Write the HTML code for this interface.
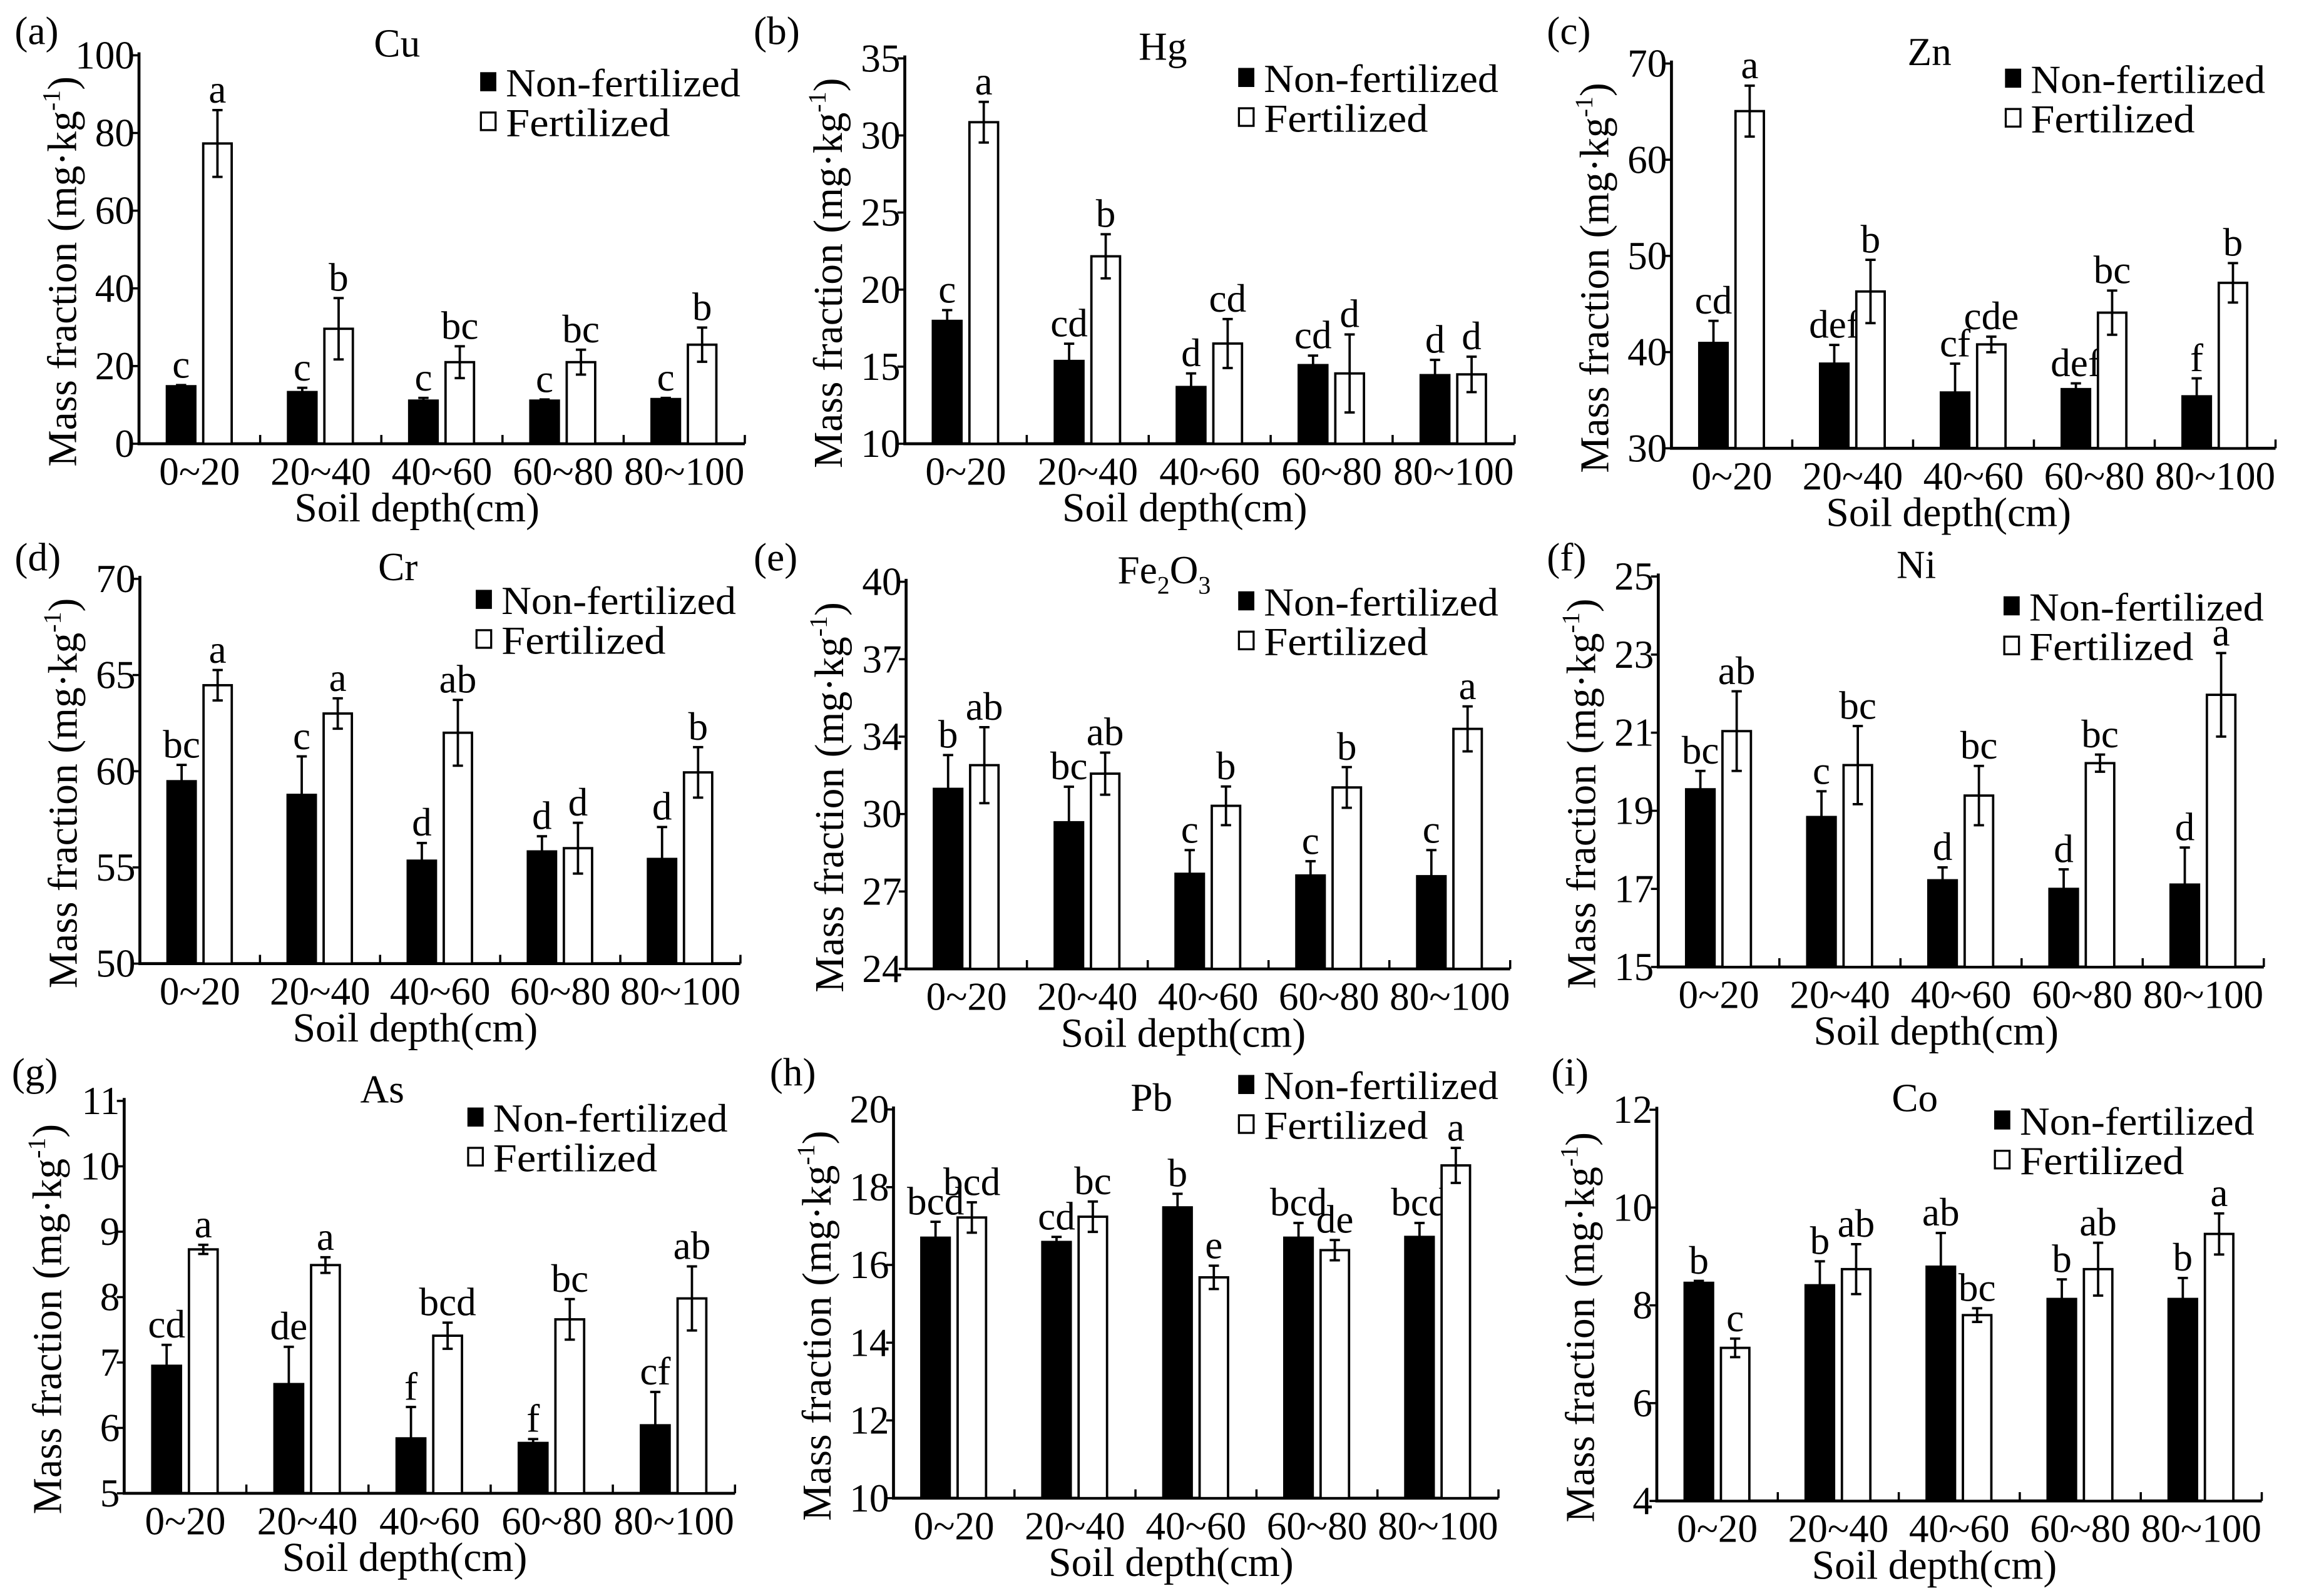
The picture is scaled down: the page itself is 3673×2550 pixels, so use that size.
<!DOCTYPE html>
<html>
<head>
<meta charset="utf-8">
<style>
html,body{margin:0;padding:0;background:#fff;}
svg{display:block;}
text{font-family:"Liberation Serif","Times New Roman",serif;fill:#000;}
</style>
</head>
<body>
<svg id="fig" xmlns="http://www.w3.org/2000/svg" width="3673" height="2550" viewBox="0 0 1568 1088" preserveAspectRatio="none"></svg>
<script>
const categories=["0~20","20~40","40~60","60~80","80~100"];

const cuNon=[14.8,13.3,11.1,11.1,11.5];
const cuNonErr=[0.3,1.1,0.7,0.3,0.3];
const cuFert=[77.3,29.6,21,21,25.5];
const cuFertErr=[8.6,7.9,4.1,3.2,4.4];
const cuNonLet=["c","c","c","c","c"];
const cuFertLet=["a","b","bc","bc","b"];
const cuTicks=[0,20,40,60,80,100];
const cuTickLabels=["0","20","40","60","80","100"];

const hgNon=[17.97,15.37,13.68,15.1,14.45];
const hgNonErr=[0.7,1.12,0.88,0.62,0.99];
const hgFert=[30.86,22.16,16.5,14.56,14.5];
const hgFertErr=[1.32,1.43,1.59,2.53,1.15];
const hgNonLet=["c","cd","d","cd","d"];
const hgFertLet=["a","b","cd","d","d"];
const hgTicks=[10,15,20,25,30,35];
const hgTickLabels=["10","15","20","25","30","35"];

const znNon=[40.95,38.8,35.8,36.15,35.4];
const znNonErr=[2.3,1.94,3.0,0.6,1.87];
const znFert=[65.05,46.3,40.8,44.1,47.2];
const znFertErr=[2.65,3.29,0.81,2.3,2.05];
const znNonLet=["cd","def","cf","def","f"];
const znFertLet=["a","b","cde","bc","b"];
const znTicks=[30,40,50,60,70];
const znTickLabels=["30","40","50","60","70"];

const crNon=[59.48,58.77,55.35,55.83,55.44];
const crNonErr=[0.85,2.0,0.92,0.79,1.66];
const crFert=[64.47,63.0,62.0,56.0,59.94];
const crFertErr=[0.79,0.79,1.71,1.32,1.31];
const crNonLet=["bc","c","d","d","d"];
const crFertLet=["a","a","ab","d","b"];
const crTicks=[50,55,60,65,70];
const crTickLabels=["50","55","60","65","70"];

const feNon=[31.44,30.06,27.93,27.86,27.83];
const feNonErr=[1.4,1.47,0.98,0.59,1.08];
const feFert=[32.42,32.07,30.74,31.5,33.92];
const feFertErr=[1.57,0.87,0.8,0.84,0.93];
const feNonLet=["b","bc","c","c","c"];
const feFertLet=["ab","ab","b","b","a"];
const feTicks=[24,27.2,30.4,33.6,36.8,40];
const feTickLabels=["24","27","30","34","37","40"];

const niNon=[19.55,18.84,17.22,17.0,17.11];
const niNonErr=[0.47,0.66,0.33,0.5,0.95];
const niFert=[21.04,20.17,19.39,20.22,21.97];
const niFertErr=[1.02,1.0,0.76,0.22,1.07];
const niNonLet=["bc","c","d","d","d"];
const niFertLet=["ab","bc","bc","bc","a"];
const niTicks=[15,17,19,21,23,25];
const niTickLabels=["15","17","19","21","23","25"];

const asNon=[6.95,6.67,5.84,5.77,6.04];
const asNonErr=[0.32,0.57,0.48,0.06,0.51];
const asFert=[8.73,8.49,7.41,7.66,7.98];
const asFertErr=[0.07,0.12,0.2,0.31,0.49];
const asNonLet=["cd","de","f","f","cf"];
const asFertLet=["a","a","bcd","bc","ab"];
const asTicks=[5,6,7,8,9,10,11];
const asTickLabels=["5","6","7","8","9","10","11"];

const pbNon=[16.7,16.59,17.48,16.7,16.72];
const pbNonErr=[0.41,0.13,0.35,0.38,0.36];
const pbFert=[17.22,17.24,15.68,16.38,18.56];
const pbFertErr=[0.39,0.39,0.3,0.26,0.45];
const pbNonLet=["bcd","cd","b","bcd","bcd"];
const pbFertLet=["bcd","bc","e","de","a"];
const pbTicks=[10,12,14,16,18,20];
const pbTickLabels=["10","12","14","16","18","20"];

const coNon=[8.46,8.41,8.79,8.13,8.13];
const coNonErr=[0.04,0.49,0.69,0.4,0.43];
const coFert=[7.13,8.74,7.8,8.74,9.46];
const coFertErr=[0.19,0.51,0.14,0.54,0.42];
const coNonLet=["b","b","ab","b","b"];
const coFertLet=["c","ab","bc","ab","a"];
const coTicks=[4,6,8,10,12];
const coTickLabels=["4","6","8","10","12"];

const panels=[
 {id:"a",title:"Cu",ax:94.8,top:37.7,bottom:302.5,right:508,min:0,max:100,ticks:cuTicks,tl:cuTickLabels,non:cuNon,nonE:cuNonErr,fert:cuFert,fertE:cuFertErr,nl:cuNonLet,fl:cuFertLet,lab:[10,30],leg:28,legX:163},
 {id:"b",title:"Hg",ax:617.1,top:39.8,bottom:302.5,right:1033,min:10,max:35,ticks:hgTicks,tl:hgTickLabels,non:hgNon,nonE:hgNonErr,fert:hgFert,fertE:hgFertErr,nl:hgNonLet,fl:hgFertLet,lab:[514,30],leg:23,legX:171},
 {id:"c",title:"Zn",ax:1140,top:43.3,bottom:305.6,right:1552,min:30,max:70,ticks:znTicks,tl:znTickLabels,non:znNon,nonE:znNonErr,fert:znFert,fertE:znFertErr,nl:znNonLet,fl:znFertLet,lab:[1055,30],leg:20,legX:167},
 {id:"d",title:"Cr",ax:95.4,top:394.6,bottom:656.9,right:505,min:50,max:70,ticks:crTicks,tl:crTickLabels,non:crNon,nonE:crNonErr,fert:crFert,fertE:crFertErr,nl:crNonLet,fl:crFertLet,lab:[10,389],leg:24,legX:163},
 {id:"e",title:"Fe2O3",ax:618,top:396.6,bottom:660.5,right:1030,min:24,max:40,ticks:feTicks,tl:feTickLabels,non:feNon,nonE:feNonErr,fert:feFert,fertE:feFertErr,nl:feNonLet,fl:feFertLet,lab:[514,389],leg:23,legX:168},
 {id:"f",title:"Ni",ax:1131,top:393,bottom:659.2,right:1544,min:15,max:25,ticks:niTicks,tl:niTickLabels,non:niNon,nonE:niNonErr,fert:niFert,fertE:niFertErr,nl:niNonLet,fl:niFertLet,lab:[1055,389],leg:30,legX:160},
 {id:"g",title:"As",ax:84.7,top:750.5,bottom:1018,right:501.3,min:5,max:11,ticks:asTicks,tl:asTickLabels,non:asNon,nonE:asNonErr,fert:asFert,fertE:asFertErr,nl:asNonLet,fl:asFertLet,lab:[8,740],leg:21,legX:165},
 {id:"h",title:"Pb",ax:609.4,top:756.3,bottom:1021.3,right:1022,min:10,max:20,ticks:pbTicks,tl:pbTickLabels,non:pbNon,nonE:pbNonErr,fert:pbFert,fertE:pbFertErr,nl:pbNonLet,fl:pbFertLet,lab:[525,740],leg:-7,legX:160},
 {id:"i",title:"Co",ax:1130,top:756.5,bottom:1023.2,right:1542.6,min:4,max:12,ticks:coTicks,tl:coTickLabels,non:coNon,nonE:coNonErr,fert:coFert,fertE:coFertErr,nl:coNonLet,fl:coFertLet,lab:[1058,740],leg:17,legX:165}
];

const NS="http://www.w3.org/2000/svg";
const svg=document.getElementById("fig");
function mk(parent,tag,attrs,txt){
  const el=document.createElementNS(NS,tag);
  for(const k in attrs) el.setAttribute(k,attrs[k]);
  if(txt!==undefined) el.textContent=txt;
  parent.appendChild(el);
  return el;
}

panels.forEach(p=>{
  const g=mk(svg,"g",{});
  
  
  const gw=(p.right-p.ax)/5;
  const y=v=>p.bottom-(v-p.min)/(p.max-p.min)*(p.bottom-p.top);

  const pl=mk(g,"text",{x:p.lab[0],y:p.lab[1],"font-size":27},"("+p.id+")");
  
  

  let tt;
  if(p.title==="Fe2O3"){
    tt=mk(g,"text",{x:p.ax+176,y:p.top+1,"font-size":27,"text-anchor":"middle"});
    mk(tt,"tspan",{},"Fe");
    mk(tt,"tspan",{"font-size":17,dy:7},"2");
    mk(tt,"tspan",{dy:-7},"O");
    mk(tt,"tspan",{"font-size":17,dy:7},"3");
  } else {
    tt=mk(g,"text",{x:p.ax+176,y:p.top+1,"font-size":27,"text-anchor":"middle"},p.title);
  }
  
  

  const ya=mk(g,"line",{x1:p.ax,y1:p.top-2,x2:p.ax,y2:p.bottom,stroke:"#000","stroke-width":2});
  
  
  const xa=mk(g,"line",{x1:p.ax-1,y1:p.bottom,x2:p.right,y2:p.bottom,stroke:"#000","stroke-width":2});
  
  

  p.ticks.forEach((v,i)=>{
    const tm=mk(g,"line",{x1:p.ax-5,y1:y(v),x2:p.ax,y2:y(v),stroke:"#000","stroke-width":1.5});
    
    
    const tl=mk(g,"text",{x:p.ax-3,y:y(v)+9,"font-size":27,"text-anchor":"end"},p.tl[i]);
    
    
  });

  categories.forEach((c,k)=>{
    const xt=mk(g,"line",{x1:p.ax+(k+1)*gw,y1:p.bottom,x2:p.ax+(k+1)*gw,y2:p.bottom-6,stroke:"#000","stroke-width":1.5});
    
    
    const xl=mk(g,"text",{x:p.ax+(k+0.5)*gw,y:p.bottom+28,"font-size":27,"text-anchor":"middle"},c);
    
    

    [[p.non,p.nonE,p.nl,0.23,"#000","non-fertilized"],[p.fert,p.fertE,p.fl,0.53,"#fff","fertilized"]].forEach(s=>{
      const v=s[0][k], e=s[1][k];
      const bx=p.ax+(k+s[3])*gw, bw=gw*0.235, cx=bx+bw/2;
      const r=mk(g,"rect",{x:bx,y:y(v),width:bw,height:p.bottom-y(v),fill:s[4],stroke:"#000","stroke-width":1.6});
      
      
      const eb=mk(g,"path",{d:"M"+cx+","+y(v-e)+"V"+y(v+e)+"M"+(cx-3.5)+","+y(v+e)+"H"+(cx+3.5)+"M"+(cx-3.5)+","+y(v-e)+"H"+(cx+3.5),stroke:"#000","stroke-width":1.6,fill:"none"});
      
      
      const lt=mk(g,"text",{x:cx,y:y(v+e)-5,"font-size":27,"text-anchor":"middle"},s[2][k]);
      
      
    });
  });

  const yt=mk(g,"text",{transform:"translate("+(p.ax-43)+","+((p.top+p.bottom)/2+15)+") rotate(-90)","font-size":28,"text-anchor":"middle"});
  mk(yt,"tspan",{},"Mass fraction (mg·kg");
  mk(yt,"tspan",{"font-size":17,dy:-11},"-1");
  mk(yt,"tspan",{dy:11},")");
  
  

  const xtl=mk(g,"text",{x:(p.ax+p.right)/2-17,y:p.bottom+53,"font-size":28,"text-anchor":"middle"},"Soil depth(cm)");
  
  

  const lb=p.top+p.leg, lx=p.right-p.legX;
  const ls1=mk(g,"rect",{x:lx-17,y:lb-16,width:10,height:12,fill:"#000",stroke:"#000","stroke-width":1});
  
  
  const lt1=mk(g,"text",{x:lx,y:lb,"font-size":27,textLength:160,lengthAdjust:"spacingAndGlyphs"},"Non-fertilized");
  
  
  const ls2=mk(g,"rect",{x:lx-17,y:lb+11,width:10,height:12,fill:"#fff",stroke:"#000","stroke-width":1.4});
  
  
  const lt2=mk(g,"text",{x:lx,y:lb+27,"font-size":27,textLength:112,lengthAdjust:"spacingAndGlyphs"},"Fertilized");
  
  
});
</script>
</body>
</html>
